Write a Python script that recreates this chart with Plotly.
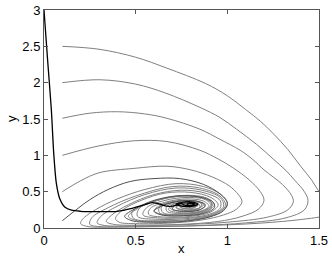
import plotly.graph_objects as go

# Trajectories: lists of (x, y) points
traj_black = [(0.0, 3.0), (0.02, 2.3), (0.04, 1.63), (0.053, 1.03), (0.067, 0.62), (0.085, 0.41),
              (0.113, 0.29), (0.15, 0.245), (0.2, 0.23), (0.3, 0.225), (0.4, 0.23), (0.48, 0.27),
              (0.55, 0.32), (0.59, 0.35), (0.63, 0.33), (0.67, 0.3), (0.72, 0.31), (0.75, 0.35),
              (0.72, 0.33), (0.75, 0.3), (0.81, 0.3), (0.84, 0.33), (0.8, 0.36), (0.75, 0.35),
              (0.76, 0.32), (0.8, 0.31), (0.82, 0.33), (0.79, 0.34), (0.78, 0.32)]

traj_y25 = [(0.1, 2.5), (0.3, 2.46), (0.5, 2.35), (0.67, 2.2), (0.88, 1.99), (1.0, 1.82), (1.1, 1.63),
            (1.18, 1.47), (1.25, 1.30), (1.33, 1.08), (1.4, 0.85), (1.46, 0.66), (1.5, 0.5), (1.56, 0.3),
            (1.55, 0.18), (1.5, 0.15), (1.3, 0.09), (1.1, 0.055),
            (0.9, 0.035), (0.65, 0.02), (0.4, 0.015), (0.24, 0.02), (0.2, 0.06), (0.21, 0.12),
            (0.28, 0.25), (0.4, 0.4), (0.55, 0.53), (0.72, 0.61), (0.87, 0.57), (0.97, 0.45), (1.0, 0.32),
            (0.95, 0.2), (0.83, 0.12), (0.66, 0.09), (0.51, 0.1), (0.46, 0.16), (0.52, 0.28), (0.64, 0.4),
            (0.78, 0.45), (0.89, 0.41), (0.93, 0.32), (0.88, 0.22), (0.77, 0.17), (0.65, 0.18), (0.6, 0.24),
            (0.65, 0.33), (0.75, 0.38), (0.85, 0.36), (0.88, 0.3), (0.83, 0.24), (0.74, 0.23), (0.69, 0.27),
            (0.73, 0.33), (0.8, 0.34), (0.84, 0.31), (0.8, 0.28), (0.78, 0.31)]

traj_y20 = [(0.1, 2.0), (0.305, 2.04), (0.5, 1.98), (0.665, 1.855), (0.85, 1.66), (0.96, 1.52), (1.05, 1.36),
            (1.16, 1.15), (1.25, 0.95), (1.32, 0.79), (1.37, 0.65), (1.42, 0.5), (1.44, 0.38), (1.42, 0.25),
            (1.32, 0.14), (1.1, 0.07), (0.85, 0.035),
            (0.55, 0.02), (0.3, 0.02), (0.25, 0.05), (0.26, 0.14), (0.35, 0.28), (0.5, 0.44), (0.7, 0.57),
            (0.85, 0.55), (0.96, 0.44), (0.99, 0.31), (0.93, 0.19), (0.8, 0.12), (0.63, 0.1), (0.49, 0.13),
            (0.48, 0.22), (0.57, 0.34), (0.71, 0.43), (0.84, 0.43), (0.91, 0.36), (0.91, 0.27), (0.84, 0.2),
            (0.73, 0.18), (0.63, 0.21), (0.63, 0.29), (0.71, 0.36), (0.81, 0.37), (0.86, 0.33), (0.84, 0.26),
            (0.77, 0.24), (0.72, 0.28), (0.75, 0.33), (0.81, 0.33), (0.79, 0.3)]

traj_y15 = [(0.1, 1.51), (0.25, 1.58), (0.4, 1.6), (0.55, 1.57), (0.67, 1.51), (0.85, 1.36), (0.96, 1.22),
            (1.07, 1.07), (1.14, 0.94), (1.2, 0.8), (1.3, 0.6), (1.35, 0.45), (1.36, 0.36), (1.33, 0.25),
            (1.22, 0.15), (1.0, 0.08), (0.75, 0.045),
            (0.5, 0.03), (0.33, 0.035), (0.29, 0.07), (0.31, 0.16), (0.4, 0.3), (0.55, 0.46), (0.72, 0.55),
            (0.86, 0.52), (0.96, 0.42), (0.98, 0.3), (0.92, 0.19), (0.78, 0.13), (0.62, 0.12), (0.51, 0.16),
            (0.52, 0.27), (0.62, 0.38), (0.76, 0.44), (0.87, 0.41), (0.92, 0.32), (0.87, 0.23), (0.76, 0.19),
            (0.65, 0.21), (0.64, 0.29), (0.72, 0.36), (0.82, 0.37), (0.87, 0.32), (0.83, 0.26), (0.76, 0.25),
            (0.72, 0.29), (0.77, 0.33), (0.81, 0.31)]

traj_y10 = [(0.1, 1.0), (0.3, 1.13), (0.49, 1.2), (0.67, 1.19), (0.85, 1.07), (0.95, 0.95), (1.03, 0.83),
            (1.12, 0.66), (1.18, 0.5), (1.2, 0.38), (1.17, 0.26), (1.08, 0.16), (0.95, 0.09), (0.75, 0.05),
            (0.55, 0.04), (0.38, 0.05), (0.34, 0.09), (0.37, 0.18), (0.46, 0.32), (0.6, 0.46), (0.75, 0.52),
            (0.88, 0.48), (0.96, 0.38), (0.96, 0.27), (0.89, 0.18), (0.76, 0.14), (0.62, 0.14), (0.54, 0.18),
            (0.56, 0.28), (0.66, 0.38), (0.78, 0.42), (0.88, 0.39), (0.91, 0.31), (0.86, 0.23), (0.76, 0.2),
            (0.67, 0.23), (0.67, 0.3), (0.75, 0.35), (0.84, 0.34), (0.85, 0.28), (0.79, 0.26), (0.74, 0.29),
            (0.78, 0.33), (0.81, 0.31)]

traj_y05 = [(0.1, 0.5), (0.2, 0.65), (0.3, 0.76), (0.49, 0.82), (0.67, 0.85), (0.8, 0.8), (0.92, 0.7),
            (1.01, 0.58), (1.06, 0.46), (1.08, 0.36), (1.05, 0.26), (0.98, 0.18), (0.86, 0.11), (0.7, 0.07),
            (0.5, 0.06), (0.41, 0.08), (0.39, 0.13), (0.43, 0.25), (0.53, 0.38), (0.66, 0.48), (0.8, 0.49),
            (0.91, 0.42), (0.95, 0.32), (0.91, 0.22), (0.8, 0.16), (0.66, 0.15), (0.57, 0.19), (0.58, 0.27),
            (0.67, 0.36), (0.78, 0.4), (0.87, 0.37), (0.9, 0.3), (0.85, 0.23), (0.75, 0.21), (0.68, 0.25),
            (0.7, 0.32), (0.78, 0.35), (0.84, 0.32), (0.81, 0.27), (0.75, 0.28), (0.77, 0.32), (0.8, 0.31)]

traj_y01 = [(0.1, 0.1), (0.18, 0.26), (0.25, 0.39), (0.35, 0.53), (0.47, 0.64), (0.6, 0.68), (0.74, 0.68),
            (0.87, 0.6), (0.96, 0.47), (1.0, 0.35), (0.98, 0.24), (0.9, 0.15), (0.76, 0.09), (0.6, 0.08),
            (0.48, 0.1), (0.44, 0.16), (0.5, 0.27), (0.6, 0.38), (0.72, 0.44), (0.84, 0.43), (0.92, 0.36),
            (0.93, 0.28), (0.87, 0.2), (0.76, 0.17), (0.64, 0.18), (0.6, 0.23), (0.65, 0.31), (0.74, 0.37),
            (0.83, 0.37), (0.88, 0.32), (0.85, 0.25), (0.77, 0.23), (0.7, 0.26), (0.72, 0.32), (0.79, 0.34),
            (0.83, 0.31), (0.79, 0.29)]

x_ticks = [0, 0.5, 1, 1.5]
x_tick_labels = ["0", "0.5", "1", "1.5"]
y_ticks = [0, 0.5, 1, 1.5, 2, 2.5, 3]
y_tick_labels = ["0", "0.5", "1", "1.5", "2", "2.5", "3"]

fig = go.Figure()

gray_trajs = [traj_y25, traj_y20, traj_y15, traj_y10, traj_y05]
for t in gray_trajs:
    fig.add_trace(go.Scatter(x=[p[0] for p in t], y=[p[1] for p in t], mode="lines",
                             line=dict(color="#808080", width=1, shape="spline", smoothing=1.0),
                             showlegend=False, hoverinfo="skip"))
fig.add_trace(go.Scatter(x=[p[0] for p in traj_y01], y=[p[1] for p in traj_y01], mode="lines",
                         line=dict(color="#505050", width=1, shape="spline", smoothing=1.0),
                         showlegend=False, hoverinfo="skip"))
fig.add_trace(go.Scatter(x=[p[0] for p in traj_black], y=[p[1] for p in traj_black], mode="lines",
                         line=dict(color="#000000", width=1.3, shape="spline", smoothing=0.8),
                         showlegend=False, hoverinfo="skip"))

axis_common = dict(showgrid=False, zeroline=False, showline=True, linecolor="#555555", linewidth=1,
                   mirror="ticks", ticks="inside", ticklen=4, tickcolor="#555555", automargin=False,
                   ticklabeloverflow="allow",
                   tickfont=dict(family="Liberation Sans, Arial, sans-serif", size=13, color="#000"))

fig.update_layout(
    width=332, height=258,
    margin=dict(l=44, r=13, t=10, b=30, autoexpand=False),
    paper_bgcolor="white", plot_bgcolor="white",
    xaxis=dict(range=[0, 1.5], tickvals=x_ticks, ticktext=x_tick_labels, **axis_common),
    yaxis=dict(range=[0, 3], tickvals=y_ticks, ticktext=y_tick_labels, **axis_common),
    annotations=[
        dict(text="x", x=0.5, y=-0.1376, xref="paper", yref="paper", showarrow=False,
             xanchor="center", yanchor="bottom", font=dict(family="Liberation Sans, Arial", size=13, color="#000")),
        dict(text="y", x=-0.12, y=0.5, xref="paper", yref="paper", showarrow=False, textangle=-90,
             xanchor="center", yanchor="middle", font=dict(family="Liberation Sans, Arial", size=13, color="#000")),
    ],
)

# remove the browser's default 8px body margin so the figure sits at the page origin
fig.write_html("out.html", config={"displayModeBar": False},
               post_script="document.body.style.margin='0';")
